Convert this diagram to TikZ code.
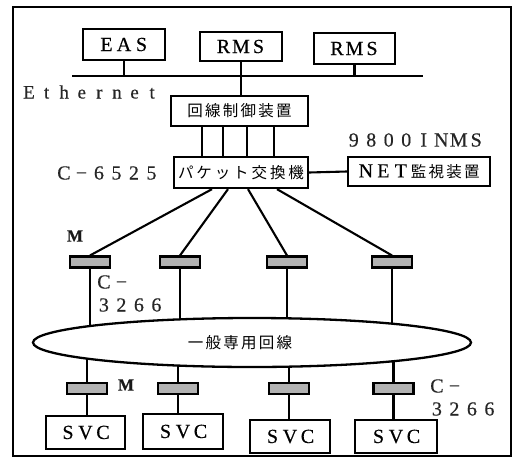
\documentclass[tikz,border=0pt]{standalone}
\usepackage{fontspec}
\setmainfont{Liberation Serif}[FakeBold=0.4]
\newfontfamily\cjk{Noto Sans CJK JP}
\usetikzlibrary{shapes.geometric,backgrounds}
\ExplSyntaxOn
\NewDocumentCommand\fw{O{17.5pt}m}{\tl_map_inline:nn{#2}{\makebox[#1]{##1}}}
\ExplSyntaxOff
\tikzset{
  box/.style={draw, line width=2.3pt, inner sep=0pt, font=\fontsize{20}{22}\selectfont},
  mbox/.style={draw, line width=2.1pt, fill=black!30, inner sep=0pt, minimum width=40, minimum height=11},
  conn/.style={line width=2.1pt},
  lab/.style={inner sep=0pt, font=\fontsize{20}{22}\selectfont, text=black!85},
  jp/.style={font=\cjk\fontsize{15.5}{17}\selectfont},
  mlab/.style={inner sep=0pt, font=\fontsize{17}{19}\selectfont\bfseries, text=black!90},
}
\begin{document}
\begin{tikzpicture}[x=1pt,y=-1pt]
\useasboundingbox (0,0) rectangle (514,466);
\draw[line width=2.4pt] (13,7) rectangle (511,456);
% top systems
\node[box, minimum width=82, minimum height=31] (eas) at (124,44.5) {\fw{EAS}};
\node[box, minimum width=82, minimum height=29] (rms1) at (241,46.5) {\fw{RMS}};
\node[box, minimum width=81, minimum height=31] (rms2) at (354.5,48.5) {\fw{RMS}};
\coordinate (eL) at (72,76);
\coordinate (eR) at (423,76);
\draw[conn] (eL) -- (eR);
\draw[conn] (eas.south) -- (eas.south |- eL);
\draw[conn] (rms2.south) -- (rms2.south |- eL);
\node[lab, anchor=west] (eth) at (20,92) {\fontsize{19}{21}\selectfont\fw[17.6pt]{Ethernet}};
% controller
\node[box, jp, minimum width=137, minimum height=30] (ctl) at (239.5,111) {\fw[17.8pt]{回線制御装置}};
\draw[conn] (rms1.south) -- (rms1.south |- ctl.north);
\node[box, jp, minimum width=134, minimum height=31] (pkt) at (241,172.5) {\fw[18.4pt]{パケット交換機}};
\foreach \x in {202,223,247,274} \draw[conn] (\x,0 |- ctl.south) -- (\x,0 |- pkt.north);
\node[lab, anchor=west] (c6525) at (55,173) {\fw{C−6525}};
\node[box, minimum width=142, minimum height=29] (nms) at (419,171.5) {\fw{NET}{\cjk\fontsize{15.5}{17}\selectfont\fw[17.8pt]{監視装置}}};
\node[lab] (inms) at (415,140) {\fw{9800INMS}};
\draw[conn] (pkt.east) -- (nms.west);
% modems top
\node[mbox] (m1) at (90,262) {};
\node[mbox] (m2) at (180,262) {};
\node[mbox] (m3) at (287,262) {};
\node[mbox] (m4) at (392,262) {};
\draw[conn] (212,0 |- pkt.south) -- (m1.north);
\draw[conn] (228,0 |- pkt.south) -- (m2.north);
\draw[conn] (248,0 |- pkt.south) -- (m3.north);
\draw[conn] (277,0 |- pkt.south) -- (m4.north);
\node[mlab] (mtop) at (75,236) {M};
\node[lab, anchor=west] (c1a) at (95,282) {\fw{C−}};
\node[lab, anchor=west] (c1b) at (95,305) {\fw{3266}};
% leased line
\node[draw, ellipse, line width=2.3pt, fill=white, minimum width=438, minimum height=49, inner sep=0pt] (ell) at (252,342.5) {};
\node[jp, inner sep=0pt] (elltxt) at (240,343) {\fw[17.8pt]{一般専用回線}};
% modems bottom
\node[mbox] (b1) at (87,388.5) {};
\node[mbox] (b2) at (178,388.5) {};
\node[mbox] (b3) at (289,388.5) {};
\node[mbox] (b4) at (393.5,388.5) {};
\node[mlab] (mbot) at (126,385) {M};
\node[lab, anchor=west] (c2a) at (428,386) {\fw{C−}};
\node[lab, anchor=west] (c2b) at (428,409) {\fw{3266}};
% SVC
\node[box, minimum width=79, minimum height=33] (s1) at (85.5,432.5) {\fw{SVC}};
\node[box, minimum width=80, minimum height=35] (s2) at (183,431.5) {\fw{SVC}};
\node[box, minimum width=80, minimum height=33] (s3) at (290,436.5) {\fw{SVC}};
\node[box, minimum width=82, minimum height=33] (s4) at (396,436.5) {\fw{SVC}};
\begin{scope}[on background layer]
\draw[conn] (m1.south) -- (m1.south |- ell.center);
\draw[conn] (m2.south) -- (m2.south |- ell.center);
\draw[conn] (m3.south) -- (m3.south |- ell.center);
\draw[conn] (m4.south) -- (m4.south |- ell.center);
\draw[conn] (b1.north |- ell.center) -- (b1.north);
\draw[conn] (b2.north |- ell.center) -- (b2.north);
\draw[conn] (b3.north |- ell.center) -- (b3.north);
\draw[conn] (b4.north |- ell.center) -- (b4.north);
\end{scope}
\draw[conn] (b1.south) -- (b1.south |- s1.north);
\draw[conn] (b2.south) -- (b2.south |- s2.north);
\draw[conn] (b3.south) -- (b3.south |- s3.north);
\draw[conn] (b4.south) -- (b4.south |- s4.north);
\end{tikzpicture}
\end{document}
